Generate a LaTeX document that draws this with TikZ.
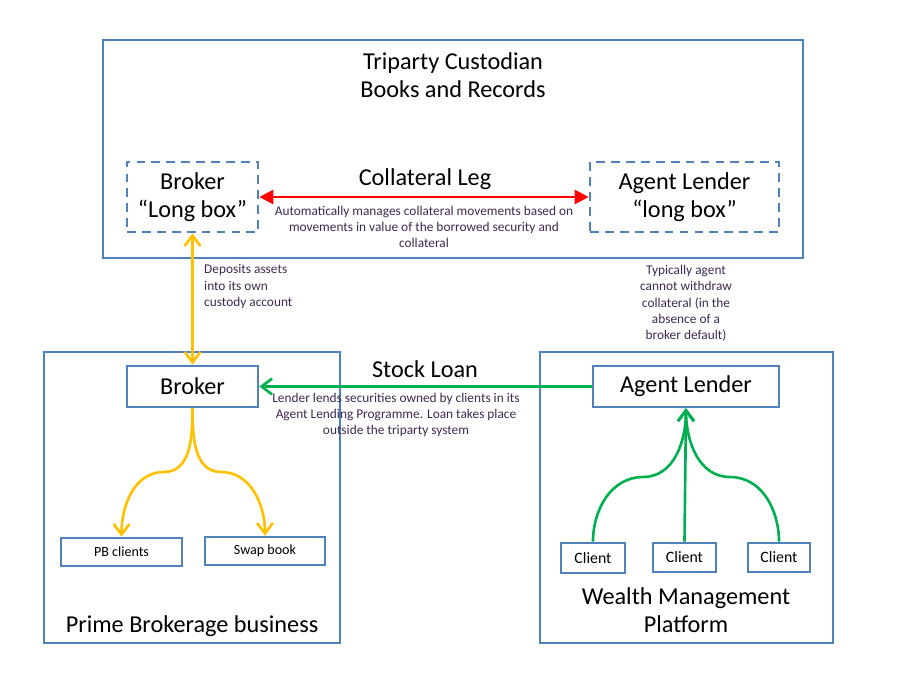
\documentclass[tikz,border=0pt]{standalone}
\usepackage{fontspec}
\setmainfont{Carlito}
\usetikzlibrary{arrows.meta}
\definecolor{boxblue}{RGB}{79,129,189}
\definecolor{gold}{RGB}{255,192,0}
\definecolor{leafgreen}{RGB}{0,176,80}
\definecolor{notetext}{RGB}{64,40,80}
\begin{document}
\begin{tikzpicture} [x=0.02cm, y=-0.02cm,
  box/.style={draw=boxblue, line width=1.5pt, inner sep=0pt, align=center},
  longbox/.style={box, dash pattern=on 5pt off 3.5pt},
  big/.style={font=\fontsize{13.8}{16}\selectfont, align=center},
  note/.style={font=\fontsize{7.6}{9.3}\selectfont, text=notetext, align=center},
  small/.style={font=\fontsize{8}{9.5}\selectfont},
  gold arrow/.style={draw=gold, line width=1.5pt, arrows={-Straight Barb[length=6pt,width=9pt,line width=1.5pt]}},
  green arrow/.style={draw=leafgreen, line width=1.5pt, arrows={-Straight Barb[length=6pt,width=9pt,line width=1.5pt]}}]
\useasboundingbox (0,0) rectangle (900,677);
\node[box, minimum width=14cm, minimum height=4.36cm] (custodian) at (453,149) {};
\node[big, text depth=0pt] (title) at (453,75) {Triparty Custodian\\Books and Records};
\node[longbox, big, minimum width=2.62cm, minimum height=1.4cm] (longbroker) at (192.5,197) {Broker\\``Long box''};
\node[longbox, big, minimum width=3.78cm, minimum height=1.4cm] (longagent) at (684.5,197) {Agent Lender\\``long box''};
\node[big] (colleg) at (425,179) {Collateral Leg};
\node[note] (colnote) at (424,227) {Automatically manages collateral movements based on\\movements in value of the borrowed security and\\collateral};
\node[box, minimum width=5.92cm, minimum height=5.82cm] (pbbiz) at (192,497.5) {};
\node[box, big, minimum width=2.62cm, minimum height=0.82cm] (broker) at (192.5,386.5) {Broker};
\node[box, small, minimum width=2.42cm, minimum height=0.56cm] (pbclients) at (121.5,552) {PB clients};
\node[box, small, minimum width=2.4cm, minimum height=0.56cm] (swapbook) at (265,551) {Swap book};
\node[big] (pbname) at (192,626) {Prime Brokerage business};
\node[box, minimum width=5.86cm, minimum height=5.82cm] (wealth) at (686.5,497.5) {};
\node[box, big, minimum width=3.72cm, minimum height=0.82cm] (agent) at (686,386.5) {Agent Lender};
\node[box, font=\fontsize{9}{10}\selectfont, minimum width=1.28cm, minimum height=0.6cm] (clienta) at (593,558) {Client};
\node[box, font=\fontsize{9}{10}\selectfont, minimum width=1.26cm, minimum height=0.58cm] (clientb) at (684.5,557.5) {Client};
\node[box, font=\fontsize{9}{10}\selectfont, minimum width=1.24cm, minimum height=0.58cm] (clientc) at (779,557.5) {Client};
\node[big] (wmname) at (686,610) {Wealth Management\\Platform};
\node[big] (stockloan) at (425,369) {Stock Loan};
\node[note] (loannote) at (396,415) {Lender lends securities owned by clients in its\\Agent Lending Programme. Loan takes place\\outside the triparty system};
\node[note, align=left, anchor=west] (depnote) at (198,286.5) {Deposits assets\\into its own\\custody account};
\node[note] (agentnote) at (686,303.5) {Typically agent\\cannot withdraw\\collateral (in the\\absence of a\\broker default)};
\coordinate (pbleft) at (164,472);
\coordinate (pbright) at (221,472);
\coordinate (wmleft) at (643,477);
\coordinate (wmright) at (730,477);
\draw[red, line width=1.5pt, {Triangle[length=8pt,width=8pt]}-{Triangle[length=8pt,width=8pt]}] (longbroker.east) -- (longagent.west);
\draw[gold arrow, arrows={Straight Barb[length=6pt,width=9pt,line width=1.5pt]-Straight Barb[length=6pt,width=9pt,line width=1.5pt]}] (longbroker.south) -- (broker.north);
\draw[green arrow] (agent.west) -- (broker.east);
\draw[gold arrow] (broker.south) to[out=-90, in=0] (pbleft) to[out=180, in=90] (pbclients.north);
\draw[gold arrow] (broker.south) to[out=-90, in=180] (pbright) to[out=0, in=90] (swapbook.north);
\draw[green arrow] (clienta.north) to[out=90, in=180] (wmleft) to[out=0, in=-90] (agent.south);
\draw[green arrow] (clientb.north) -- (agent.south);
\draw[green arrow] (clientc.north) to[out=90, in=0] (wmright) to[out=180, in=-90] (agent.south);
\end{tikzpicture}
\end{document}
